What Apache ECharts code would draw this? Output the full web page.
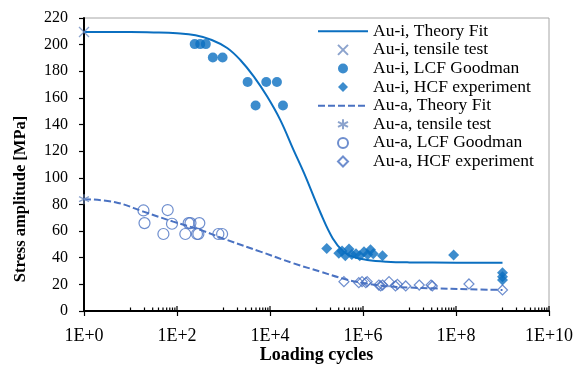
<!DOCTYPE html>
<html><head><meta charset="utf-8">
<script src="https://cdn.jsdelivr.net/npm/echarts@6/dist/echarts.min.js"></script>
<style>html,body{margin:0;padding:0;background:#fff}#c{width:577px;height:365px}</style>
</head><body><div id="c"></div>
<script>
// ---- data (N = loading cycles, S = stress amplitude MPa) ----
const auiFitN = [1, 10, 31.6, 100, 250, 560, 1200, 2300, 4500, 8700, 16600, 32000, 54000, 123000, 224000, 380000, 630000, 1.23e6, 3.2e6, 1e7, 1e8, 1e9];
const auiFitS = [209.5, 209.5, 209.2, 208.5, 207, 203.5, 197.5, 188.5, 176, 161, 143.5, 121, 103.5, 73.4, 54.5, 44.6, 40.5, 38.3, 37, 36.5, 36.3, 36.3];

const auiTensileN = [1];
const auiTensileS = [209.5];

const auiLcfN = [240, 316, 417, 590, 955, 3300, 8300, 14100, 4900, 19000];
const auiLcfS = [200.4, 200.4, 200.4, 190.4, 190.4, 171.9, 171.9, 171.9, 154.3, 154.3];

const auiHcfN = [166000, 302000, 355000, 417000, 500000, 575000, 708000, 851000, 1.05e6, 1.26e6, 1.45e6, 1.66e6, 2.63e6, 8.9e7, 1e9, 1e9, 1e9];
const auiHcfS = [47, 43.3, 45, 41.5, 46.5, 42.5, 43, 41.5, 44.5, 42.5, 46, 43, 41.5, 42, 28.8, 25.8, 23.3];

const auaFitN = [1, 4.7, 19, 83, 316, 1175, 6200, 32000, 123000, 400000, 1e6, 2.8e6, 1e7, 3.4e7, 1.8e8, 1e9];
const auaFitS = [84, 81.7, 74.6, 67.1, 60.9, 53.4, 44.6, 35.8, 29.5, 24, 21, 18.8, 17.6, 17, 16.3, 15.8];

const auaTensileN = [1];
const auaTensileS = [84];

const auaLcfN = [19, 20, 63, 51, 78, 151, 178, 195, 302, 269, 288, 776, 933];
const auaLcfS = [75.5, 66, 75.8, 57.8, 65.5, 57.8, 66, 66, 66, 57.8, 57.8, 57.8, 57.8];

const auaHcfN = [389000, 813000, 955000, 1.15e6, 1.23e6, 2.19e6, 2.4e6, 2.63e6, 3.63e6, 5e6, 5.5e6, 8.3e6, 1.62e7, 2.9e7, 3.1e7, 1.9e8, 1e9];
const auaHcfS = [22, 21.3, 22, 21.3, 22, 19.5, 18.8, 19.5, 22, 18.8, 20, 18.8, 19.5, 19.5, 18.8, 20.3, 15.8];

const seriesNames = ['Au-i, Theory Fit', 'Au-i, tensile test', 'Au-i, LCF Goodman', 'Au-i, HCF experiment',
                     'Au-a, Theory Fit', 'Au-a, tensile test', 'Au-a, LCF Goodman', 'Au-a, HCF experiment'];
const xTickLabels = ['1E+0', '1E+2', '1E+4', '1E+6', '1E+8', '1E+10'];
const yTicks = [0, 20, 40, 60, 80, 100, 120, 140, 160, 180, 200, 220];
const xTitle = 'Loading cycles';
const yTitle = 'Stress amplitude [MPa]';

// ---- helpers ----
const zip = (a, b) => a.map((v, i) => [v, b[i]]);
// tick marks of the log axis (Excel-like: major crossing ticks every 2 decades, minor 10..90 in odd decades)
const tickMarks = [];
for (let k = 0; k <= 5; k++) tickMarks.push([Math.pow(100, k), 1]);
for (let k = 0; k < 5; k++) for (let m = 1; m <= 9; m++) tickMarks.push([m * Math.pow(10, 2 * k + 1), 0]);

const cI = '#0b6fc0', cA = '#4a72c2', cX = '#6f8cc0';
const font = 'Liberation Serif';
const crossPath = 'path://M0,0L10,10M10,0L0,10';
const starPath = 'path://M5,0L5,10M0,2.5L10,7.5M0,7.5L10,2.5';
const diamondPath = 'path://M5,0L10,5L5,10L0,5Z';

const chart = echarts.init(document.getElementById('c'), null, {renderer: 'canvas'});
chart.setOption({
  animation: false,
  backgroundColor: '#fff',
  grid: {left: 84, right: 28, top: 18, bottom: 54, containLabel: false, outerBoundsMode: 'none',
         show: true, borderColor: '#a6a6a6', borderWidth: 1, backgroundColor: 'transparent'},
  xAxis: {
    type: 'log', logBase: 100, min: 1, max: 1e10, interval: 1,
    name: xTitle, nameLocation: 'middle', nameGap: 35, nameMoveOverlap: false,
    nameTextStyle: {fontFamily: font, fontWeight: 'bold', fontSize: 18, color: '#000'},
    axisLine: {show: true, onZero: false, lineStyle: {color: '#000', width: 2}},
    axisTick: {show: true, inside: false, length: 5, lineStyle: {color: '#000', width: 1.2}},
    axisLabel: {fontFamily: font, fontSize: 18, color: '#000', margin: 16,
      formatter: v => xTickLabels[Math.round(Math.log10(v) / 2)]},
    splitLine: {show: false}, minorTick: {show: false}
  },
  yAxis: {
    type: 'value', min: 0, max: 220, interval: 20,
    axisLine: {show: true, lineStyle: {color: '#000', width: 2}},
    axisTick: {show: true, inside: false, length: 5, lineStyle: {color: '#000', width: 1.2}},
    axisLabel: {fontFamily: font, fontSize: 16, color: '#000', margin: 16,
      formatter: v => yTicks.includes(v) ? String(v) : ''},
    splitLine: {show: false}
  },
  graphic: [{
    type: 'text', x: 21, y: 199, rotation: Math.PI / 2, silent: true,
    style: {text: yTitle, font: 'bold 16.5px "Liberation Serif"', fill: '#000', textAlign: 'center', textVerticalAlign: 'middle'}
  }],
  legend: {
    data: seriesNames, orient: 'vertical', left: 317, top: 22, padding: 0,
    itemWidth: 50, itemHeight: 10, itemGap: 0, selectedMode: false,
    textStyle: {fontFamily: font, fontSize: 17.5, color: '#000', lineHeight: 18.6}
  },
  series: [
    {name: seriesNames[0], type: 'line', smooth: 0.4, symbol: 'none', data: zip(auiFitN, auiFitS),
     lineStyle: {color: cI, width: 2}, itemStyle: {color: 'rgba(0,0,0,0)', borderWidth: 0}, z: 3},
    {name: seriesNames[1], type: 'scatter', symbol: crossPath, symbolSize: 10, symbolKeepAspect: true,
     data: zip(auiTensileN, auiTensileS), itemStyle: {color: 'transparent', borderColor: cX, borderWidth: 1.3}, z: 5},
    {name: seriesNames[2], type: 'scatter', symbol: 'circle', symbolSize: 10, symbolKeepAspect: true,
     data: zip(auiLcfN, auiLcfS), itemStyle: {color: cI}, z: 4},
    {name: seriesNames[3], type: 'scatter', symbol: diamondPath, symbolSize: 11, symbolKeepAspect: true,
     data: zip(auiHcfN, auiHcfS), itemStyle: {color: cI}, z: 4},
    {name: seriesNames[4], type: 'line', smooth: 0.4, symbol: 'none', data: zip(auaFitN, auaFitS),
     lineStyle: {color: cA, width: 2, type: [7, 3]}, itemStyle: {color: 'rgba(0,0,0,0)', borderWidth: 0}, z: 3},
    {name: seriesNames[5], type: 'scatter', symbol: starPath, symbolSize: 10, symbolKeepAspect: true,
     data: zip(auaTensileN, auaTensileS), itemStyle: {color: 'transparent', borderColor: cX, borderWidth: 1.3}, z: 5},
    {name: seriesNames[6], type: 'scatter', symbol: 'circle', symbolSize: 11, symbolKeepAspect: true,
     data: zip(auaLcfN, auaLcfS), itemStyle: {color: 'transparent', borderColor: cA, borderWidth: 1.2}, z: 4},
    {name: seriesNames[7], type: 'scatter', symbol: diamondPath, symbolSize: 10, symbolKeepAspect: true,
     data: zip(auaHcfN, auaHcfS), itemStyle: {color: 'transparent', borderColor: cA, borderWidth: 1.2}, z: 4},
    {name: 'ticks', type: 'custom', silent: true, clip: false, z: 10, data: tickMarks,
     renderItem: (params, api) => {
       const p = api.coord([api.value(0), 0]);
       const major = api.value(1) === 1;
       return {type: 'line', shape: {x1: p[0], y1: p[1] - (major ? 5 : 3.5), x2: p[0], y2: p[1]},
               style: {stroke: '#000', lineWidth: 1.2}};
     }}
  ]
});
</script></body></html>
